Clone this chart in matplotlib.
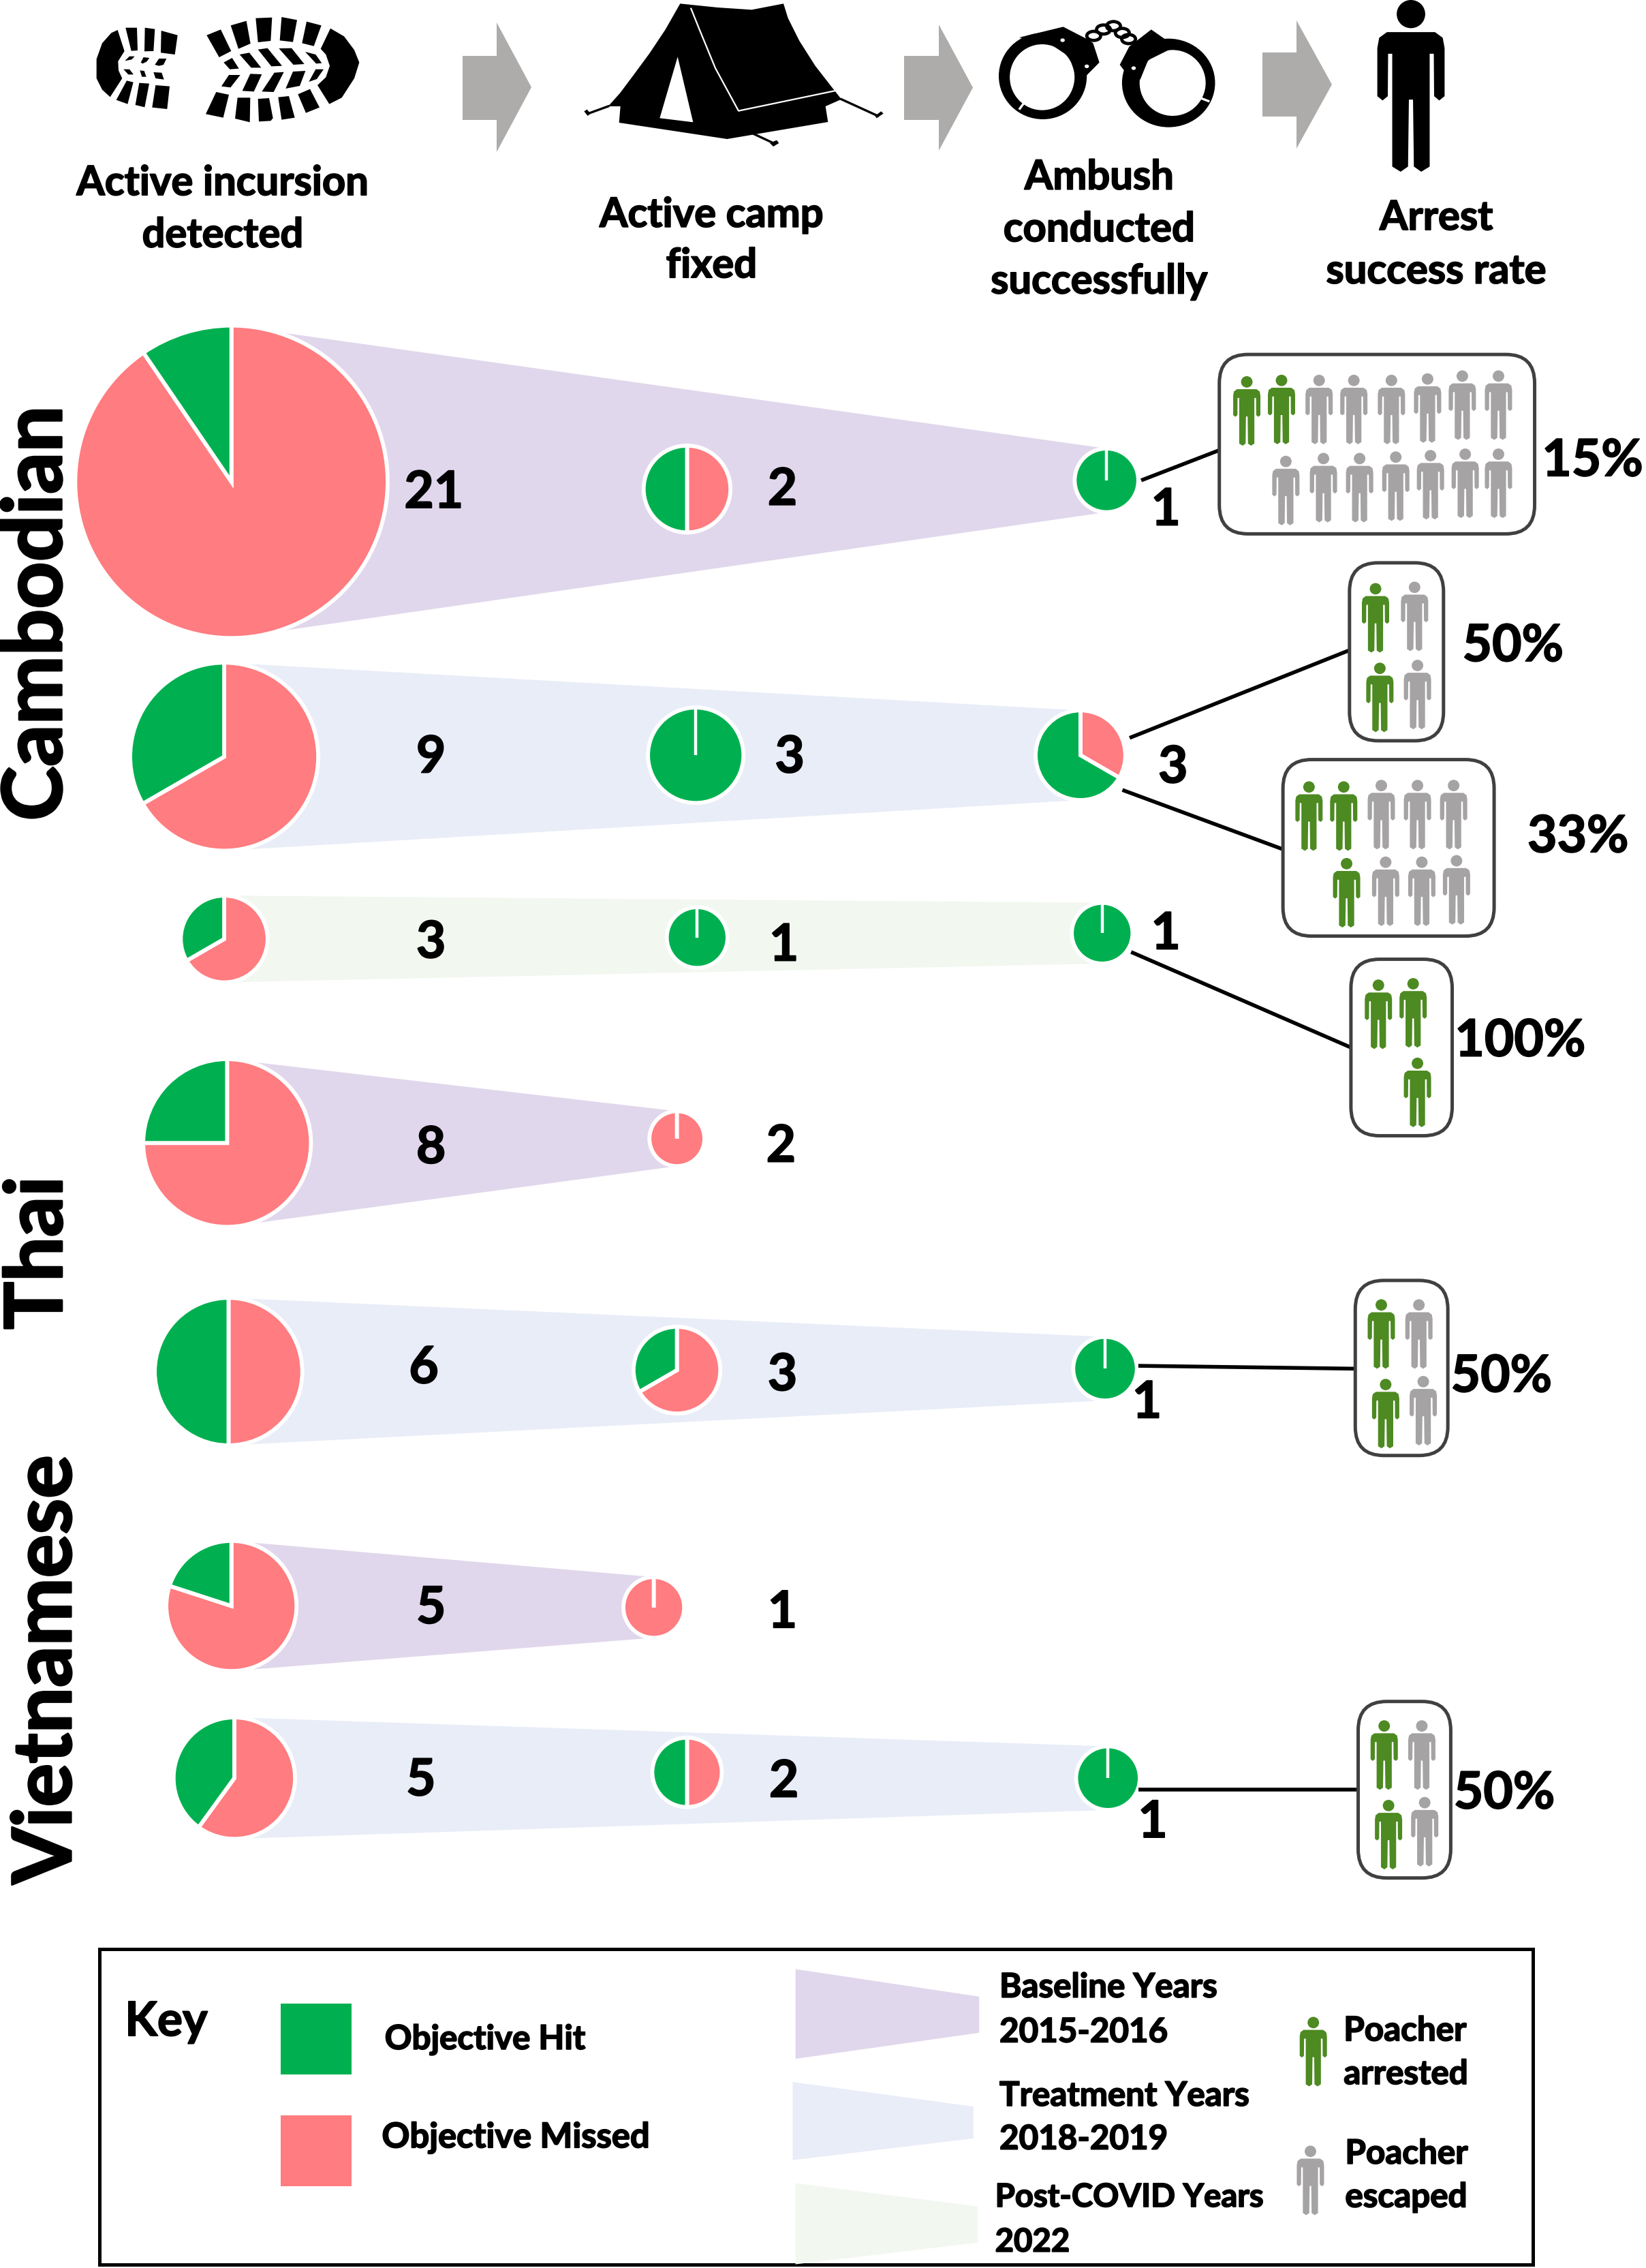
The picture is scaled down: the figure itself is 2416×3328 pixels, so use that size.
import numpy as np
import matplotlib
matplotlib.use('Agg')
import matplotlib.pyplot as plt
import matplotlib.patheffects as pe
from matplotlib.patches import Polygon, Ellipse, Rectangle, FancyBboxPatch

plt.rcParams['font.family'] = ['Lato', 'DejaVu Sans']
plt.rcParams['font.weight'] = 'bold'

S = 2416 / 1138  # layout below is measured on the 1138 wide preview

# objective hit / missed per row, three stages (None = stage not reached)
detect_hit = [2, 3, 1, 2, 3, 1, 2]
detect_miss = [19, 6, 2, 6, 3, 4, 3]
camp_hit = [1, 3, 1, 0, 1, 0, 1]
camp_miss = [1, 0, 0, 2, 2, 1, 1]
ambush_hit = [1, 2, 1, None, 1, None, 1]
ambush_miss = [0, 1, 0, None, 0, None, 0]

rates = ['15%', '50%', '33%', '100%', '50%', '50%']
arrested = [2, 2, 3, 3, 2, 2]
escaped = [13, 2, 6, 0, 2, 2]

header_lines = [['Active incursion', 'detected'], ['Active camp', 'fixed'],
                ['Ambush', 'conducted', 'successfully'], ['Arrest', 'success rate']]
groups = ['Cambodian', 'Thai', 'Vietnamese']
key_periods = [['Baseline Years', '2015-2016'], ['Treatment Years', '2018-2019'],
               ['Post-COVID Years', '2022']]

# layout
C_HIT, C_MISS = '#00B050', '#FF7C80'
C_ARREST, C_ESCAPE = '#4D8A22', '#A5A3A4'
C_BASE, C_TREAT, C_POST = '#E1D7EC', '#E9EDF8', '#F2F7F0'
row_colors = [C_BASE, C_TREAT, C_POST, C_BASE, C_TREAT, C_BASE, C_TREAT]
detect_xyr = [(160, 333, 108), (155, 523, 65), (155, 649, 30), (157, 790, 58),
              (158, 948, 51), (160, 1110, 45), (162, 1229, 42)]
camp_xyr = [(475, 338, 30), (481, 522, 33), (482, 648, 21), (468, 787, 19),
            (468, 947, 30), (452, 1111, 21), (475, 1225, 24)]
ambush_xyr = [(765, 332, 22), (747, 522, 31), (762, 645, 21), None,
              (764, 946, 22), None, (766, 1229, 22)]
number_labels = [('21', 300, 339), ('2', 541, 337), ('1', 806, 351),
                 ('9', 298, 522), ('3', 546, 522), ('3', 811, 529),
                 ('3', 298, 650), ('1', 542, 652), ('1', 806, 644),
                 ('8', 298, 792), ('2', 540, 791),
                 ('6', 293, 944), ('3', 541, 949), ('1', 793, 968),
                 ('5', 298, 1110), ('1', 541, 1113),
                 ('5', 291, 1229), ('2', 542, 1230), ('1', 797, 1258)]
rate_xy = [(1101, 317), (1046, 445), (1091, 577), (1051, 718), (1038, 950), (1040, 1238)]
box_rects = [(843, 245, 1061, 369), (933, 389, 998, 512), (887, 525, 1033, 647),
             (934, 663, 1004, 785), (937, 885, 1001, 1006), (939, 1176, 1003, 1298)]
# person slots per box, arrested people take the first ones
box_xy = [[(862, 260), (886, 259), (912, 259), (936, 259), (962, 259), (987, 258), (1011, 256), (1036, 256),
           (889, 315), (915, 313), (940, 313), (965, 312), (989, 311), (1013, 310), (1036, 310)],
          [(951, 403), (954, 458), (978, 402), (980, 456)],
          [(905, 540), (929, 540), (931, 593), (955, 539), (980, 539), (1005, 539), (958, 592), (983, 592), (1007, 591)],
          [(953, 677), (977, 676), (980, 731)],
          [(955, 898), (958, 953), (981, 898), (984, 951)],
          [(957, 1189), (960, 1244), (983, 1189), (985, 1242)]]
links = [(789, 332, 846, 310), (781, 510, 934, 449), (776, 546, 887, 587),
         (782, 658, 934, 724), (787, 944, 937, 946), (787, 1237, 939, 1237)]

fig = plt.figure(figsize=(24.16, 33.28), dpi=100)
ax = fig.add_axes([0, 0, 1, 1])


def label(x, y, txt, size, ha='center', rotation=0, heavy=1.3, dy=1.8):
    ax.text(x * S, (y + dy) * S, txt, fontsize=size, ha=ha, va='center', color='black', rotation=rotation,
            path_effects=[pe.withStroke(linewidth=heavy, foreground='black')], zorder=6)


def person(cx, top, h, color):
    half = [(0, .187), (.14, .187), (.185, .22), (.196, .28), (.196, .56), (.165, .585), (.135, .56),
            (.133, .313), (.109, .313), (.109, .97), (.06, 1.0), (.017, .97), (.012, .58)]
    pts = half + [(-x, y) for x, y in half[::-1]]
    pts = [(cx + x * h, top + y * h) for x, y in pts]
    ax.add_patch(Polygon(pts, closed=True, fc=color, ec='none', zorder=5))
    ax.add_patch(Ellipse((cx, top + .082 * h), .166 * h, .164 * h, fc=color, ec='none', zorder=5))


def pie(hit, miss, xyr):
    x, y, r = xyr[0] * S, xyr[1] * S, xyr[2] * S
    ax.pie([miss, hit], colors=[C_MISS, C_HIT], center=(x, y), radius=r, startangle=-90,
           counterclock=True, wedgeprops={'edgecolor': 'white', 'linewidth': 4.2})
    if hit == 0 or miss == 0:
        ax.plot([x, x], [y - r, y], color='white', lw=3.2, solid_capstyle='butt', zorder=4)


# funnels
for i in range(7):
    end = ambush_xyr[i] if ambush_xyr[i] else camp_xyr[i]
    x0, y0, r0 = detect_xyr[i]
    x1, y1, r1 = end
    ax.add_patch(Polygon([(x0 * S, (y0 - r0) * S), (x1 * S, (y1 - r1) * S),
                          (x1 * S, (y1 + r1) * S), (x0 * S, (y0 + r0) * S)],
                         fc=row_colors[i], ec='none', zorder=0))

for i in range(7):
    pie(detect_hit[i], detect_miss[i], detect_xyr[i])
    pie(camp_hit[i], camp_miss[i], camp_xyr[i])
    if ambush_xyr[i]:
        pie(ambush_hit[i], ambush_miss[i], ambush_xyr[i])

for x0, y0, x1, y1 in links:
    ax.plot([x0 * S, x1 * S], [y0 * S, y1 * S], color='black', lw=4, solid_capstyle='butt', zorder=3)

for x0, y0, x1, y1 in box_rects:
    ax.add_patch(FancyBboxPatch((x0 * S, y0 * S), (x1 - x0) * S, (y1 - y0) * S,
                                boxstyle='round,pad=0,rounding_size=42', fc='white', ec='#404040', lw=3.6, zorder=4))

for slots, n_arr, n_esc in zip(box_xy, arrested, escaped):
    for k, (px, py) in enumerate(slots[:n_arr + n_esc]):
        person(px * S, py * S, 102, C_ARREST if k < n_arr else C_ESCAPE)

for txt, x, y in number_labels:
    label(x, y, txt, 54)
for txt, (x, y) in zip(rates, rate_xy):
    label(x, y, txt, 54)

# header text
head_x = [154, 492, 760, 993]
head_y = [[125, 161], [147, 182], [121, 157, 193], [149, 186]]
for lines, x, ys in zip(header_lines, head_x, head_y):
    for line, y in zip(lines, ys):
        label(x, y, line, 43)

group_xy = [(26, 424), (27, 866), (33, 1154)]
group_size = [87, 84, 86]
for g, (x, y), fs in zip(groups, group_xy, group_size):
    label(x, y, g, fs, rotation=90, heavy=2.2, dy=0)

# arrows
arrows = [(679, 729, 780, 82, 176, 33, 223), (1327, 1378, 1428, 82, 176, 36, 221),
          (1853, 1903, 1955, 77, 171, 30, 218)]
for x0, x1, tip, r0, r1, h0, h1 in arrows:
    ax.add_patch(Polygon([(x0, r0), (x1, r0), (x1, h0), (tip, (h0 + h1) / 2), (x1, h1), (x1, r1), (x0, r1)],
                         fc='#AEACAB', ec='none'))

# boot prints
boots = [
    [(218, 132), (190, 145), (150, 190), (125, 260), (125, 345), (150, 395), (185, 427), (238, 345), (222, 310), (220, 270), (248, 225)],
    [(253, 122), (303, 122), (306, 222), (278, 224)], [(338, 122), (382, 128), (376, 225), (336, 226)],
    [(410, 135), (482, 155), (470, 240), (408, 232)], [(258, 355), (287, 362), (262, 458), (212, 440)],
    [(313, 365), (357, 368), (337, 472), (296, 462)], [(385, 375), (447, 380), (436, 480), (370, 473)],
    [(250, 268), (270, 248), (293, 248), (280, 262)], [(320, 275), (332, 252), (358, 255), (345, 272), (328, 280)],
    [(382, 285), (400, 258), (433, 258), (420, 285), (400, 290)], [(244, 305), (270, 305), (288, 328), (265, 328)],
    [(316, 310), (335, 312), (344, 338), (325, 338)], [(376, 318), (412, 320), (422, 350), (385, 345)],
    [(1155, 125), (1215, 160), (1260, 220), (1282, 275), (1260, 345), (1205, 430), (1150, 458), (1098, 375), (1135, 340), (1152, 290), (1135, 240), (1112, 215)],
    [(610, 155), (672, 130), (718, 225), (665, 252)], [(716, 112), (785, 92), (803, 192), (750, 215)],
    [(826, 80), (898, 77), (892, 180), (836, 186)], [(940, 75), (1008, 88), (990, 185), (932, 178)],
    [(1050, 95), (1115, 112), (1082, 203), (1030, 190)],
    [(652, 405), (708, 417), (683, 518), (606, 502)], [(746, 430), (802, 430), (800, 538), (735, 522)],
    [(836, 435), (885, 432), (902, 520), (892, 532), (840, 535)], [(925, 428), (972, 423), (998, 518), (940, 527)],
    [(1012, 415), (1065, 392), (1107, 473), (1047, 497)],
    [(685, 275), (722, 255), (752, 302), (712, 305)], [(755, 240), (798, 232), (850, 298), (806, 298)],
    [(836, 218), (878, 212), (942, 290), (895, 292)], [(928, 213), (984, 212), (1040, 282), (992, 285)],
    [(1044, 228), (1090, 240), (1117, 278), (1092, 280)],
    [(708, 330), (758, 330), (715, 385), (675, 380)], [(802, 325), (853, 327), (818, 403), (767, 400)],
    [(908, 320), (950, 317), (905, 405), (853, 403)], [(990, 315), (1045, 312), (1020, 378), (958, 390)],
    [(1090, 305), (1125, 305), (1095, 348), (1060, 360)]]
for b in boots:
    ax.add_patch(Polygon([(100 + x / 3, y / 3) for x, y in b], fc='black', ec='none'))


# tent
def tp(pts):
    return [(820 + x / 3, y / 3) for x, y in pts]


tent = [(535, 16), (700, 33), (850, 43), (990, 16), (1010, 80), (1060, 180), (1130, 290), (1200, 380), (1245, 437),
        (1175, 468), (1186, 537), (742, 612), (266, 540), (272, 468), (218, 468), (270, 410), (330, 330), (400, 235), (470, 130)]
ax.add_patch(Polygon(tp(tent), fc='black', ec='none'))
ax.add_patch(Polygon(tp([(524, 250), (592, 538), (445, 520)]), fc='white', ec='none'))
crease = np.array(tp([(583, 38), (620, 130), (690, 300), (792, 488), (1215, 400)]))
ax.plot(crease[:, 0], crease[:, 1], color='white', lw=1.6)
for seg in ([(218, 468), (130, 500)], [(1245, 437), (1405, 510)], [(860, 590), (950, 632)]):
    seg = np.array(tp(seg))
    ax.plot(seg[:, 0], seg[:, 1], color='black', lw=2.4)
for stake in ([(112, 490), (125, 482), (140, 500), (128, 510)], [(1393, 510), (1420, 490), (1430, 500), (1400, 520)],
              [(930, 630), (960, 617), (970, 630), (945, 645)]):
    ax.add_patch(Polygon(tp(stake), fc='black', ec='none'))


# handcuffs
def cp(x, y):
    return (1436 + x / 2.167, y / 3)


def cuff_ell(x, y, rx, ry, **kw):
    ax.add_patch(Ellipse(cp(x, y), 2 * rx / 2.167, 2 * ry / 3, **kw))


cuff_ell(205, 335, 140, 190, fc='black', ec='none')
cuff_ell(203, 340, 103, 145, fc='white', ec='none')
ax.add_patch(Polygon([cp(*p) for p in [(130, 165), (270, 118), (350, 175), (365, 190), (385, 275), (335, 345), (315, 355), (290, 250), (230, 195)]], fc='black', ec='none'))
cuff_ell(605, 365, 148, 195, fc='black', ec='none')
cuff_ell(618, 365, 105, 145, fc='white', ec='none')
ax.add_patch(Polygon([cp(*p) for p in [(550, 130), (612, 190), (620, 210), (540, 265), (515, 350), (480, 340), (450, 285), (480, 205)]], fc='black', ec='none'))
for x, y in [(268, 177), (494, 300), (345, 292)]:
    cuff_ell(x, y, 7, 8, fc='white', ec='none')
for x, y in [(367, 158), (398, 130), (430, 115), (458, 145), (478, 172)]:
    cuff_ell(x, y, 22, 20, fc='none', ec='black', lw=3.4)
for seg in [[(152, 440), (132, 478)], [(700, 428), (732, 445)]]:
    ax.plot([cp(*seg[0])[0], cp(*seg[1])[0]], [cp(*seg[0])[1], cp(*seg[1])[1]], color='white', lw=2.4)

# big man
person(2071, 0, 252, 'black')

# key
ax.add_patch(Rectangle((69 * S, 1347 * S), 991 * S, 218 * S, fc='none', ec='black', lw=3.6))
label(115, 1396, 'Key', 50)
ax.add_patch(Rectangle((194 * S, 1385 * S), 49 * S, 49 * S, fc=C_HIT, ec='none'))
ax.add_patch(Rectangle((194 * S, 1462 * S), 49 * S, 49 * S, fc=C_MISS, ec='none'))
label(266, 1409, 'Objective Hit', 35.5, ha='left', dy=0.6)
label(264, 1477, 'Objective Missed', 36.5, ha='left', dy=0.6)
key_shapes = [[(550, 1361), (677, 1380), (677, 1405), (550, 1423)],
              [(548, 1439), (673, 1456), (673, 1478), (548, 1493)],
              [(550, 1509), (676, 1525), (676, 1550), (550, 1565)]]
for pts, c in zip(key_shapes, [C_BASE, C_TREAT, C_POST]):
    ax.add_patch(Polygon([(x * S, y * S) for x, y in pts], fc=c, ec='none'))
key_text_xy = [(691, [1373, 1404]), (691, [1448, 1478]), (688, [1518, 1549])]
key_size = [35.5, 35.5, 34]
for lines, (x, ys), fs in zip(key_periods, key_text_xy, key_size):
    for line, y in zip(lines, ys):
        label(x, y, line, fs, ha='left', dy=0.6)
person(908 * S, 1394 * S, 102, C_ARREST)
person(906 * S, 1483 * S, 102, C_ESCAPE)
for line, x, y in [('Poacher', 929, 1403), ('arrested', 929, 1433), ('Poacher', 930, 1488), ('escaped', 930, 1518)]:
    label(x, y, line, 35.5, ha='left', dy=0.6)

ax.set_xlim(0, 2416)
ax.set_ylim(3328, 0)
ax.set_aspect('auto')
ax.axis('off')
fig.savefig('out.png', dpi=100, facecolor='white')
